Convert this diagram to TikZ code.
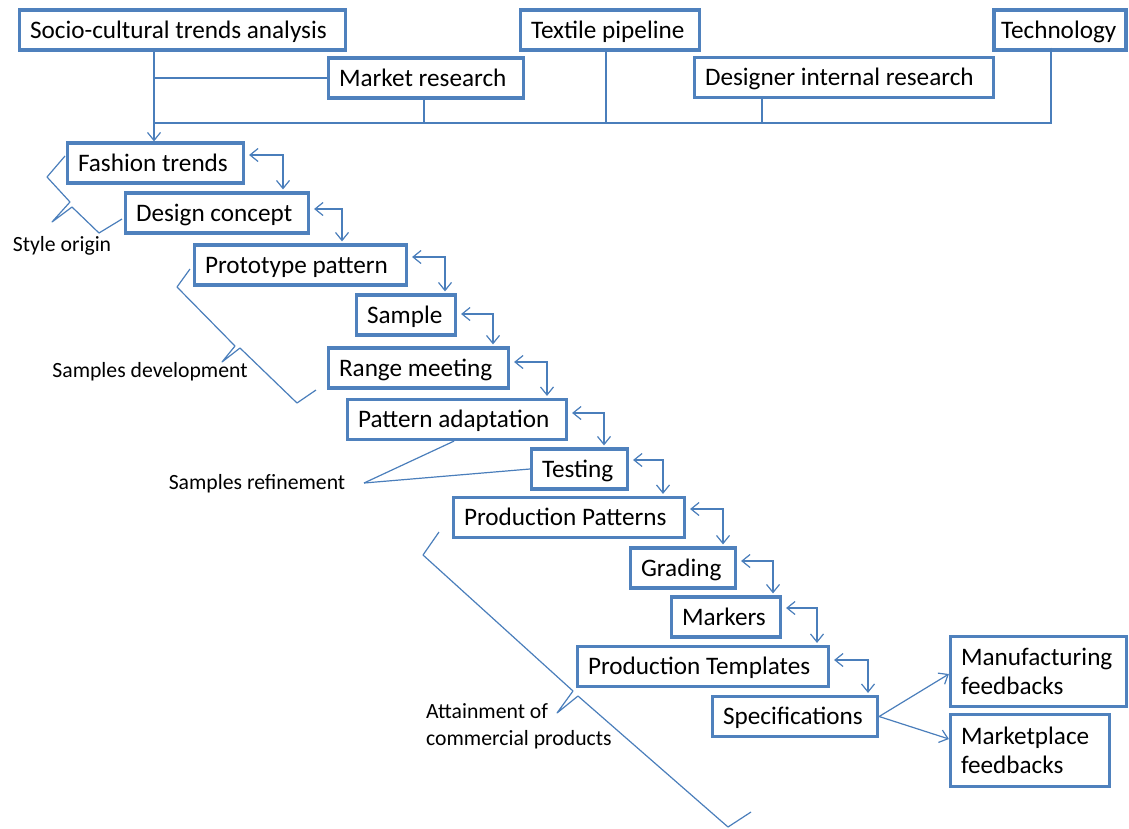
\documentclass[tikz,border=0pt]{standalone}
\usepackage{fontspec}
\setmainfont{Carlito}
\usetikzlibrary{arrows.meta,calc}
\definecolor{boxblue}{HTML}{4F81BD}
\definecolor{linkblue}{HTML}{4A7EBB}
\newcommand\boxfont{\fontsize{25.2}{29}\selectfont}
\newcommand\lblfont{\fontsize{21.7}{27}\selectfont}
\begin{document}
\hyphenpenalty=10000
\begin{tikzpicture}[x=1pt,y=-1pt,
  box/.style={draw=boxblue,line width=3.2pt,inner xsep=10.5pt,inner ysep=0pt,
    minimum height=40pt,text width=#1pt,text height=22pt,text depth=6pt,
    align=flush left,font=\boxfont},
  twoline/.style={text height=22pt,text depth=35pt},
  lbl/.style={inner sep=0pt,align=left,font=\lblfont},
  link/.style={draw=linkblue,line width=1.2pt},
  arr/.style={link,-{Straight Barb[length=8pt,width=13pt]}},
  dbl/.style={link,{Straight Barb[length=8pt,width=13pt]}-{Straight Barb[length=8pt,width=13pt]},
    shorten <=4pt,shorten >=2pt},
  brace/.style={link,line join=round}]
\useasboundingbox (0,0) rectangle (1129,828);

% sources of input
\node[box=305] (soc)  at (182.5,30) {Socio-cultural trends analysis};
\node[box=174] (mkt)  at (426,78)   {Market research};
\node[box=158] (tex)  at (610,30)   {Textile pipeline};
\node[box=278] (des)  at (844,77.5) {Designer internal research};
\node[box=118,inner xsep=7pt] (tech) at (1060,30) {Technology};

% process chain
\node[box=155] (fash)   at (155.5,163) {Fashion trends};
\node[box=162] (dc)     at (217,213)   {Design concept};
\node[box=191] (proto)  at (300.5,265) {Prototype pattern};
\node[box=78]  (sample) at (406,315)   {Sample};
\node[box=159] (range)  at (418.5,368) {Range meeting};
\node[box=198] (pa)     at (457,419.5) {Pattern adaptation};
\node[box=75]  (test)   at (579.5,469) {Testing};
\node[box=210] (pp)     at (569,517.5) {Production Patterns};
\node[box=84]  (grad)   at (683,568)   {Grading};
\node[box=88]  (mark)   at (726,617)   {Markers};
\node[box=230] (pt)     at (703,666.5) {Production Templates};
\node[box=144] (spec)   at (795,716.5) {Specifications};
\node[box=155,twoline,minimum height=70pt] (mfb)  at (1038.5,671.5) {Manufacturing\\feedbacks};
\node[box=138,twoline,minimum height=72pt] (mpfb) at (1030,750.5)   {Marketplace\\feedbacks};

% input bus
\coordinate (busL) at (154,123);
\coordinate (busR) at (1052,123);
\coordinate (mktT) at ($(mkt.south)+(-2,0)$);
\coordinate (texT) at ($(tex.south)+(-4,0)$);
\coordinate (desT) at ($(des.south west)+(69,0)$);
\coordinate (techT) at ($(tech.south)+(-9,-4)$);
\draw[arr] (soc.south -| busL) -- (fash.north -| busL);
\draw[link] (mkt.west) -- (mkt.west -| busL);
\draw[link] (busL) -- (busR);
\draw[link] (mktT) -- (mktT |- busL);
\draw[link] (texT) -- (texT |- busL);
\draw[link] (desT) -- (desT |- busL);
\draw[link] (techT) -- (techT |- busL);

% feedback loops between consecutive steps
\draw[dbl] (fash.east |- 0,155)   -| (283,0 |- dc.north);
\draw[dbl] (dc.east |- 0,209)     -| (342,0 |- proto.north);
\draw[dbl] (proto.east |- 0,257)  -| (445,0 |- sample.north);
\draw[dbl] (sample.east |- 0,314) -| (493,0 |- range.north);
\draw[dbl] (range.east |- 0,362)  -| (547,0 |- pa.north);
\draw[dbl] (pa.east |- 0,413)     -| (604,0 |- test.north);
\draw[dbl] (test.east |- 0,460)   -| (663,0 |- pp.north);
\draw[dbl] (pp.east |- 0,509)     -| (723,0 |- grad.north);
\draw[dbl] (grad.east |- 0,561)   -| (773,0 |- mark.north);
\draw[dbl] (mark.east |- 0,608)   -| (817,0 |- pt.north);
\draw[dbl] (pt.east |- 0,660)     -| (868,0 |- spec.north);

% outputs
\draw[arr] (spec.east) -- (mfb.west |- 0,674);
\draw[arr] (spec.east) -- (mpfb.west |- 0,739);

% phase braces and labels
\draw[brace] (65,156) -- (47,177) -- (70,202) -- (52,222) -- (72,207) -- (99,233) -- (122,219);
\node[lbl] (lstyle) at (62,246) {Style origin};

\draw[brace] (190,269) -- (177,287) -- (235,346) -- (222,362) -- (240,348) -- (297,403) -- (316,390);
\node[lbl] (ldev) at (150,372) {Samples development};

\coordinate (sref) at (364,483);
\draw[link] (sref) -- (454,0 |- pa.south);
\draw[link] (sref) -- (test.west |- 0,469);
\node[lbl] (lref) at (257,484) {Samples refinement};

\draw[brace] (439,532) -- (423,555) -- (573,691) -- (557,713) -- (578,696) -- (728,827) -- (751,812);
\node[lbl,anchor=west] (latt) at (426,726) {Attainment of\\commercial products};
\end{tikzpicture}
\end{document}
